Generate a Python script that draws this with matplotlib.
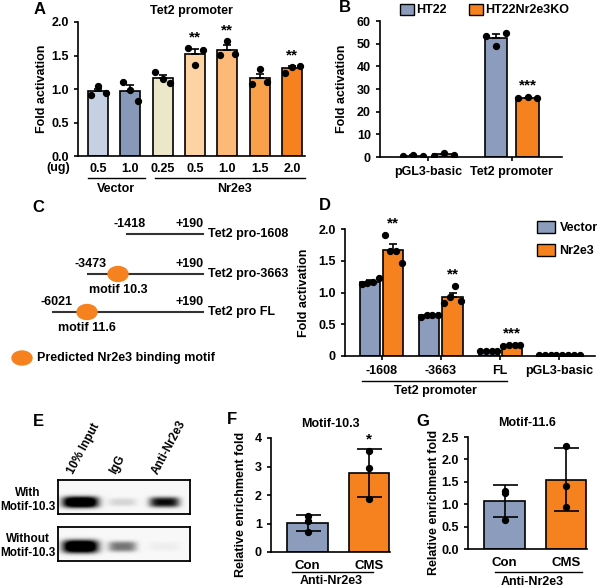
import numpy as np
import matplotlib.pyplot as plt
from matplotlib.patches import Ellipse, Patch

plt.rcParams['font.family'] = ['Liberation Sans', 'DejaVu Sans']
plt.rcParams['font.weight'] = 'bold'
plt.rcParams['axes.labelweight'] = 'bold'
plt.rcParams['font.size'] = 9
plt.rcParams['axes.linewidth'] = 1.2
plt.rcParams['xtick.major.width'] = 1.2
plt.rcParams['ytick.major.width'] = 1.2
plt.rcParams['xtick.major.size'] = 3
plt.rcParams['ytick.major.size'] = 3

# ---- data ----
# A: Tet2 promoter, dose response
a_doses = ['0.5', '1.0', '0.25', '0.5', '1.0', '1.5', '2.0']
a_points = [[0.91, 1.045, 0.935], [1.11, 0.985, 0.825], [1.26, 1.145, 1.085],
            [1.61, 1.36, 1.575], [1.51, 1.72, 1.525], [1.075, 1.295, 1.11],
            [1.245, 1.335, 1.345]]
a_stars = ['', '', '', '**', '**', '', '**']
a_colors = ['#c5d0e3', '#8798b8', '#ede7c9', '#fdd3a3', '#fcb978', '#f9a04a', '#f5821f']

# B: HT22 vs knockout
b_groups = ['pGL3-basic', 'Tet2 promoter']
b_ht22 = [[0.44, 1.03, 0.44], [53.4, 49.0, 54.9]]
b_ko = [[0.59, 1.77, 1.03], [26.0, 26.3, 26.1]]
b_stars = ['', '***']

# C: promoter constructs
c_names = ['Tet2 pro-1608', 'Tet2 pro-3663', 'Tet2 pro FL']
c_starts = [-1418, -3473, -6021]
c_end = 190
c_motifs = [None, 'motif 10.3', 'motif 11.6']

# D: deletion constructs
d_groups = ['-1608', '-3663', 'FL', 'pGL3-basic']
d_vector = [[1.13, 1.15, 1.16, 1.23], [0.62, 0.65, 0.65, 0.65],
            [0.075, 0.08, 0.08, 0.085], [0.01, 0.01, 0.012, 0.01]]
d_nr2e3 = [[1.905, 1.65, 1.66, 1.47], [0.83, 0.93, 1.105, 0.87],
           [0.165, 0.17, 0.175, 0.17], [0.02, 0.022, 0.02, 0.02]]
d_stars = ['**', '**', '***', '']

# E: ChIP gel band intensities (lanes: 10% Input, IgG, Anti-Nr2e3)
e_lanes = ['10% Input', 'IgG', 'Anti-Nr2e3']
e_rows = ['With\nMotif-10.3', 'Without\nMotif-10.3']
e_with = [1.0, 0.1, 0.7]
e_without = [1.0, 0.38, 0.03]

# F, G: ChIP-qPCR
fg_groups = ['Con', 'CMS']
f_points = [[1.27, 1.08, 0.71], [3.53, 2.94, 1.86]]
g_points = [[1.25, 1.29, 0.65], [2.31, 1.40, 0.93]]

BLUE = '#8b9cbd'
ORANGE = '#f5821f'

W, H = 600, 588
fig = plt.figure(figsize=(6, 5.88), dpi=100)


def box(l, t, r, b):
    return [l / W, 1 - b / H, (r - l) / W, (b - t) / H]


def fx(x):
    return x / W


def fy(y):
    return 1 - y / H


def style(ax):
    ax.spines['top'].set_visible(False)
    ax.spines['right'].set_visible(False)
    ax.tick_params(labelsize=9)


def sem(p):
    return np.std(p, ddof=1) / np.sqrt(len(p))


def draw_bar(ax, x, pts, color, width, err='sem', spread=0.6):
    pts = np.array(pts)
    m = pts.mean()
    ax.bar(x, m, width, color=color, edgecolor='black', linewidth=1.2, zorder=2)
    if err == 'sem':
        ax.errorbar(x, m, yerr=[[0], [sem(pts)]], color='black', capsize=3,
                    elinewidth=1.2, capthick=1.2, zorder=3)
        top = m + sem(pts)
    else:
        sd = np.std(pts, ddof=1)
        ax.errorbar(x, m, yerr=sd, color='black', capsize=9,
                    elinewidth=1.2, capthick=1.2, zorder=3)
        top = m + sd
    offs = np.linspace(-width * spread / 2, width * spread / 2, len(pts))
    ax.scatter(x + offs, pts, s=18, color='black', zorder=4, clip_on=True)
    return max(top, pts.max())


# ---------------- A ----------------
axA = fig.add_axes(box(78, 22, 305, 156))
style(axA)
xa = np.arange(len(a_doses))
for i, pts in enumerate(a_points):
    top = draw_bar(axA, xa[i], pts, a_colors[i], 0.62, spread=0.75)
    if a_stars[i]:
        axA.text(xa[i], top + 0.05, a_stars[i], ha='center', va='bottom', fontsize=11)
axA.set_ylim(0, 2.0)
axA.set_yticks([0, 0.5, 1.0, 1.5, 2.0])
axA.set_yticklabels(['0.0', '0.5', '1.0', '1.5', '2.0'])
axA.set_xlim(-0.62, 6.4)
axA.set_xticks(xa)
axA.set_xticklabels(a_doses)
axA.tick_params(axis='x', length=0, pad=5)
axA.set_ylabel('Fold activation', fontsize=9)
axA.yaxis.set_label_coords((48 - 78) / 227, 0.5)
axA.set_title('Tet2 promoter', fontsize=9, fontweight='bold', pad=6)
fig.text(fx(58), fy(168), '(ug)', ha='center', va='center', fontsize=9)
fig.add_artist(plt.Line2D([fx(88), fx(145)], [fy(178), fy(178)], color='black', lw=1))
fig.add_artist(plt.Line2D([fx(155), fx(305)], [fy(178), fy(178)], color='black', lw=1))
fig.text(fx(116), fy(189), 'Vector', ha='center', va='center', fontsize=9)
fig.text(fx(235), fy(189), 'Nr2e3', ha='center', va='center', fontsize=9)
fig.text(fx(40), fy(9), 'A', ha='center', va='center', fontsize=12)

# ---------------- B ----------------
axB = fig.add_axes(box(380, 21, 562, 157))
style(axB)
xb = np.arange(len(b_groups))
bw = 0.265
for i in range(len(b_groups)):
    draw_bar(axB, xb[i] - 0.187, b_ht22[i], BLUE, bw, spread=0.9)
    top = draw_bar(axB, xb[i] + 0.187, b_ko[i], ORANGE, bw, spread=0.9)
    if b_stars[i]:
        axB.text(xb[i] + 0.187, top + 2, b_stars[i], ha='center', va='bottom', fontsize=11)
axB.set_ylim(0, 60)
axB.set_yticks(range(0, 61, 10))
axB.set_xlim(-0.58, 1.6)
axB.set_xticks(xb)
axB.set_xticklabels(b_groups, fontsize=9)
axB.set_ylabel('Fold activation', fontsize=9)
axB.yaxis.set_label_coords((348 - 380) / 182, 0.5)
axB.legend(handles=[Patch(facecolor=BLUE, edgecolor='black', label='HT22'),
                    Patch(facecolor=ORANGE, edgecolor='black', label='HT22Nr2e3KO')],
           loc='center left', bbox_to_anchor=(fx(400), fy(10)), bbox_transform=fig.transFigure,
           ncol=2, frameon=False, fontsize=9, handlelength=1.1, handleheight=1.0,
           handletextpad=0.2, columnspacing=1.8, borderpad=0, borderaxespad=0)
fig.text(fx(345), fy(8), 'B', ha='center', va='center', fontsize=12)

# ---------------- C ----------------
axC = fig.add_axes(box(0, 195, 300, 372))
axC.set_xlim(0, 300)
axC.set_ylim(372, 195)
axC.axis('off')


def c_x(pos):
    return 203 - 1.9 * np.sqrt(c_end - pos)


row_y = [234, 274, 312]
motif_x = [None, 118, 87]
for i, name in enumerate(c_names):
    y = row_y[i]
    x0 = c_x(c_starts[i])
    axC.plot([x0, c_x(c_end)], [y, y], color='#333333', lw=1.5, zorder=1)
    axC.text(x0 + 3, y - 10, str(c_starts[i]), ha='center', va='center', fontsize=9)
    axC.text(c_x(c_end) - 13, y - 10, '+%d' % c_end, ha='center', va='center', fontsize=9)
    axC.text(c_x(c_end) + 5, y, name, ha='left', va='center', fontsize=9)
    if c_motifs[i]:
        axC.add_patch(Ellipse((motif_x[i], y), 20, 15, color=ORANGE, zorder=2))
        axC.text(motif_x[i], y + 16, c_motifs[i], ha='center', va='center', fontsize=9)
axC.add_patch(Ellipse((22, 358), 20, 14, color=ORANGE))
axC.text(37, 358, 'Predicted Nr2e3 binding motif', ha='left', va='center', fontsize=9)
fig.text(fx(38), fy(208), 'C', ha='center', va='center', fontsize=12)

# ---------------- D ----------------
axD = fig.add_axes(box(345, 229, 595, 356))
style(axD)
xd = np.arange(len(d_groups))
dw = 0.34
for i in range(len(d_groups)):
    draw_bar(axD, xd[i] - 0.195, d_vector[i], BLUE, dw, spread=0.85)
    top = draw_bar(axD, xd[i] + 0.195, d_nr2e3[i], ORANGE, dw, spread=0.85)
    if d_stars[i]:
        axD.text(xd[i] + 0.195, top + 0.07, d_stars[i], ha='center', va='bottom', fontsize=11)
axD.set_ylim(0, 2.0)
axD.set_yticks([0, 0.5, 1.0, 1.5, 2.0])
axD.set_yticklabels(['0', '0.5', '1.0', '1.5', '2.0'])
axD.set_xlim(-0.62, 3.6)
axD.set_xticks(xd)
axD.set_xticklabels(d_groups, fontsize=9)
axD.set_ylabel('Fold activation', fontsize=9)
axD.yaxis.set_label_coords((310 - 345) / 250, 0.5)
axD.legend(handles=[Patch(facecolor=BLUE, edgecolor='black', label='Vector'),
                    Patch(facecolor=ORANGE, edgecolor='black', label='Nr2e3')],
           loc='upper left', bbox_to_anchor=(fx(537), fy(221)), bbox_transform=fig.transFigure,
           frameon=False, fontsize=9, handlelength=1.4, handleheight=1.1,
           handletextpad=0.4, labelspacing=0.8, borderpad=0, borderaxespad=0)
fig.add_artist(plt.Line2D([fx(362), fx(507)], [fy(381), fy(381)], color='black', lw=1))
fig.text(fx(435), fy(391), 'Tet2 promoter', ha='center', va='center', fontsize=9)
fig.text(fx(325), fy(205), 'D', ha='center', va='center', fontsize=12)

# ---------------- E ----------------
lane_cx = [22, 64, 106]
lane_w = [18, 14, 15]


def gel(ax, levels, band_y, band_h):
    gx = np.arange(132)[None, :]
    gy = np.arange(34)[:, None]
    dens = np.zeros((34, 132))
    for cx, w, lev in zip(lane_cx, lane_w, levels):
        h = band_h * (0.75 + 0.35 * lev)
        shape = np.exp(-np.abs((gx - cx) / w) ** 4) * np.exp(-np.abs((gy - band_y) / h) ** 3)
        dens += lev * shape
    img = np.clip(0.03 + 1.35 * dens, 0, 1)
    ax.imshow(img, cmap='gray_r', vmin=0, vmax=1, aspect='auto', interpolation='bilinear')
    ax.set_xticks([])
    ax.set_yticks([])
    for s in ax.spines.values():
        s.set_linewidth(1.3)


axE1 = fig.add_axes(box(58, 480, 190, 514))
gel(axE1, e_with, 22, 5.0)
axE2 = fig.add_axes(box(58, 527, 190, 561))
gel(axE2, e_without, 19, 6.0)
for cx, lab in zip(lane_cx, e_lanes):
    fig.text(fx(58 + cx - 4), fy(476), lab, rotation=62, ha='left', va='bottom',
             fontsize=8.5, rotation_mode='anchor')
fig.text(fx(28), fy(500), e_rows[0], ha='center', va='center', fontsize=8.5, linespacing=1.3)
fig.text(fx(28), fy(546), e_rows[1], ha='center', va='center', fontsize=8.5, linespacing=1.3)
fig.text(fx(38), fy(422), 'E', ha='center', va='center', fontsize=12)


# ---------------- F and G ----------------
def chip_panel(rect, pts_list, ylim, yticks, yticklabels, title, letter, lpos, star, ylab_x):
    ax = fig.add_axes(box(*rect))
    style(ax)
    xs = np.arange(len(fg_groups))
    cols = [BLUE, ORANGE]
    for i, pts in enumerate(pts_list):
        top = draw_bar(ax, xs[i], pts, cols[i], 0.66, err='sd', spread=0.0)
        if star and i == 1:
            ax.text(xs[i], top + 0.02 * ylim, star, ha='center', va='bottom', fontsize=11)
    ax.set_ylim(0, ylim)
    ax.set_yticks(yticks)
    ax.set_yticklabels(yticklabels)
    ax.set_xlim(-0.6, 1.35)
    ax.set_xticks(xs)
    ax.set_xticklabels(fg_groups, fontsize=9.5)
    ax.tick_params(axis='x', length=0, pad=6)
    ax.set_title(title, fontsize=9, fontweight='bold', pad=8)
    ax.set_ylabel('Relative enrichment fold', fontsize=9)
    ax.yaxis.set_label_coords((ylab_x - rect[0]) / (rect[2] - rect[0]), 0.42)
    fig.text(fx(lpos[0]), fy(lpos[1]), letter, ha='center', va='center', fontsize=12)
    return ax


chip_panel((271, 438, 390, 552), f_points, 4, [0, 1, 2, 3, 4], ['0', '1', '2', '3', '4'],
           'Motif-10.3', 'F', (232, 420), '*', 247)
fig.add_artist(plt.Line2D([fx(292), fx(373)], [fy(572), fy(572)], color='black', lw=1))
fig.text(fx(331), fy(581), 'Anti-Nr2e3', ha='center', va='center', fontsize=9)

chip_panel((468, 437, 587, 549), g_points, 2.5, [0, 0.5, 1.0, 1.5, 2.0, 2.5],
           ['0.0', '0.5', '1.0', '1.5', '2.0', '2.5'], 'Motif-11.6', 'G', (423, 422), '', 440)
fig.add_artist(plt.Line2D([fx(495), fx(582)], [fy(572), fy(572)], color='black', lw=1))
fig.text(fx(532), fy(582), 'Anti-Nr2e3', ha='center', va='center', fontsize=9)

fig.savefig('out.png', dpi=100)
